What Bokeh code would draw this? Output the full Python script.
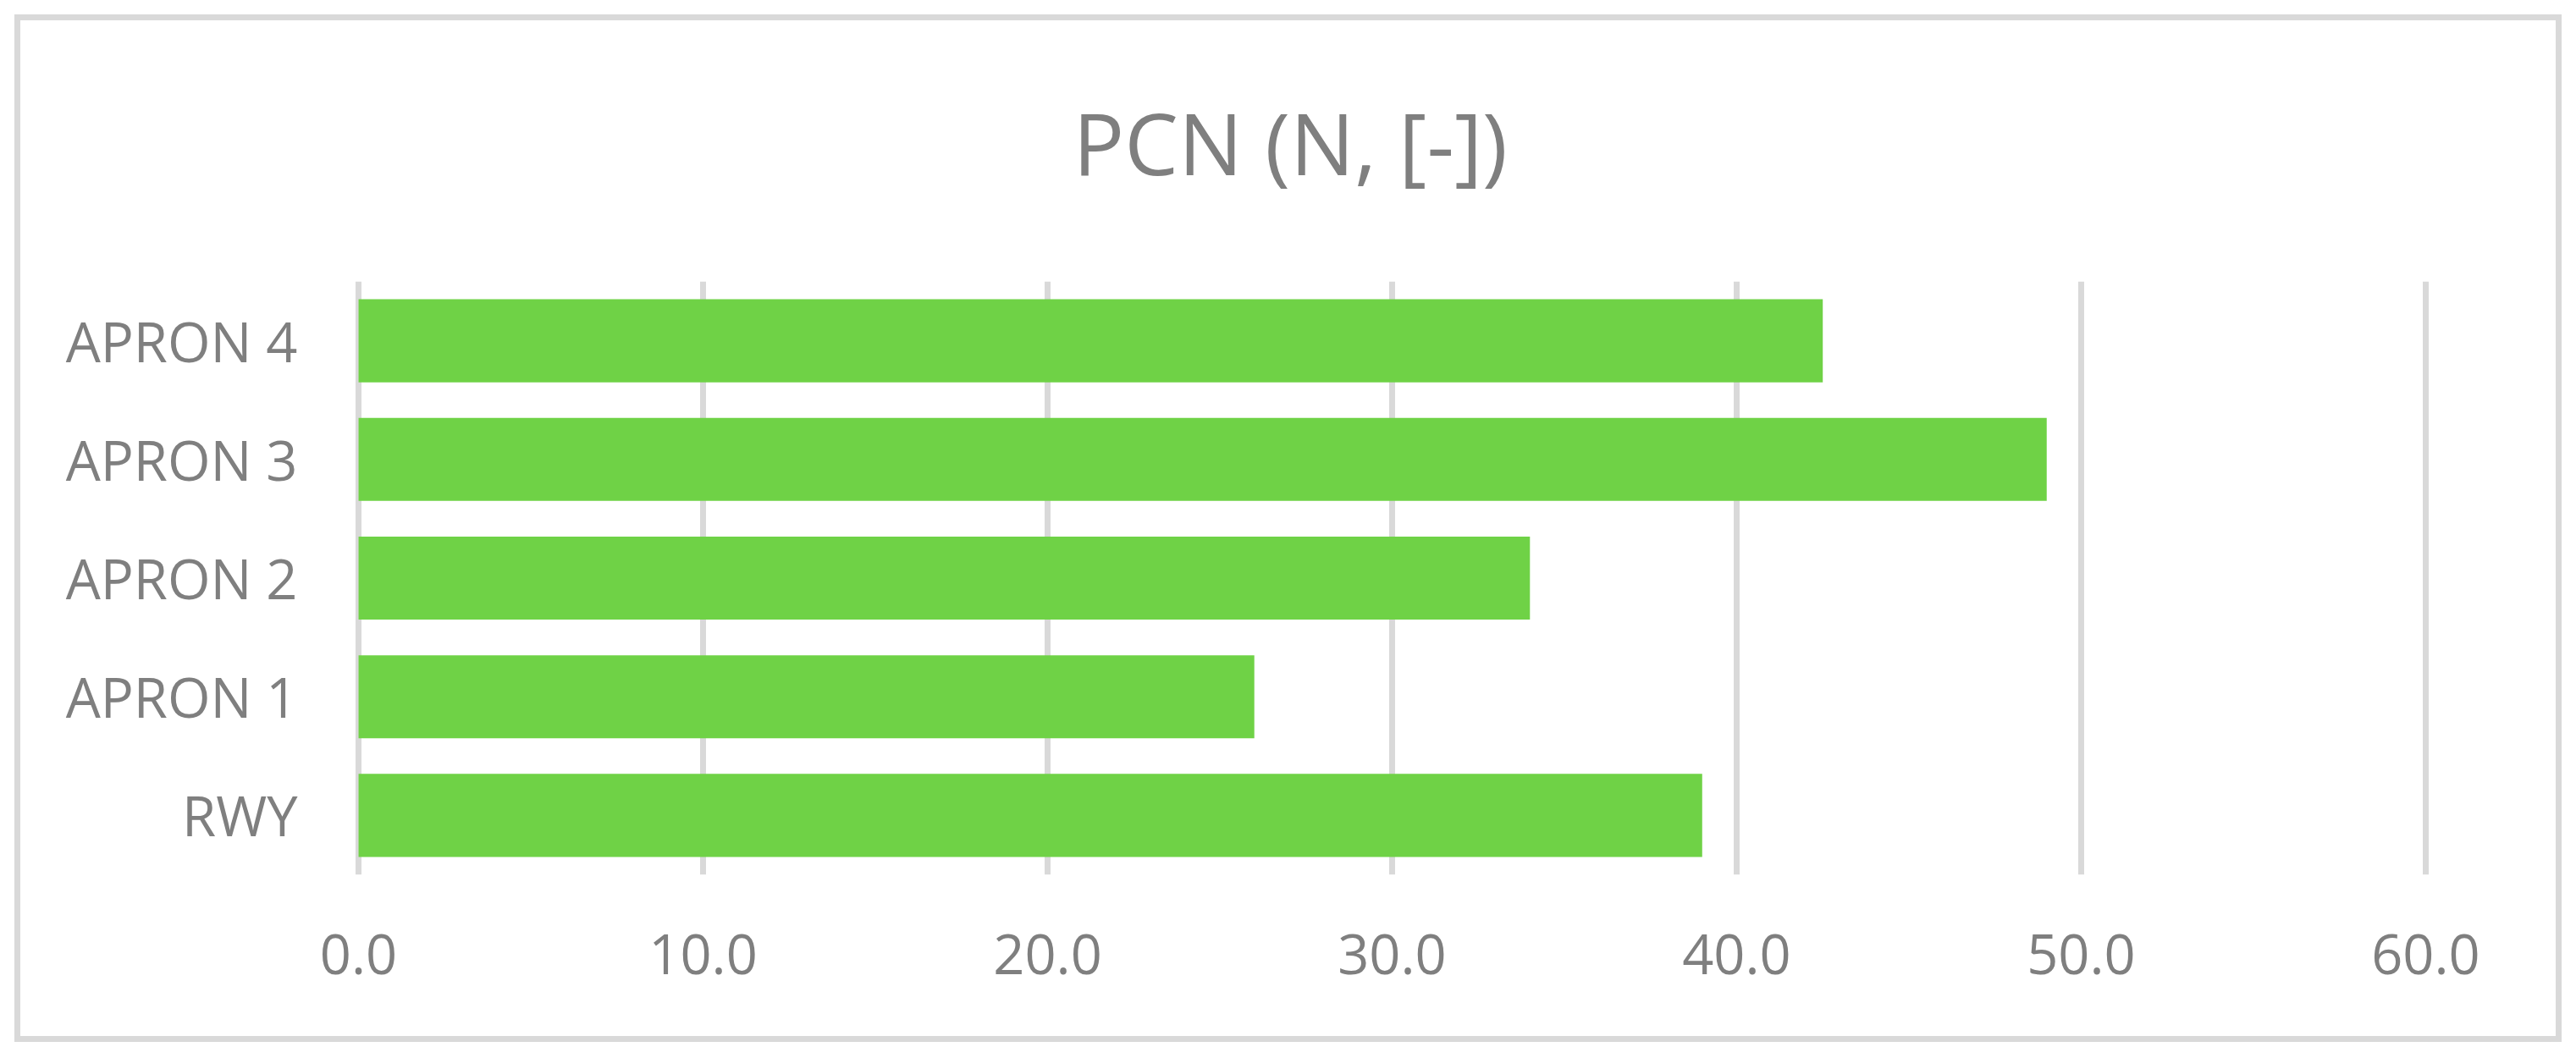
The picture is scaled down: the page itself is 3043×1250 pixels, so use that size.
from bokeh.plotting import figure
from bokeh.models import FactorRange, Range1d, FixedTicker
from bokeh.embed import file_html
from bokeh.resources import INLINE

# ---- data ----
categories = ["RWY", "APRON 1", "APRON 2", "APRON 3", "APRON 4"]
pcn_values = [39.0, 26.0, 34.0, 49.0, 42.5]
x_ticks = [0, 10, 20, 30, 40, 50, 60]
x_tick_labels = ["0.0", "10.0", "20.0", "30.0", "40.0", "50.0", "60.0"]
title_text = "PCN (N, [-])"

TEXT = "#7f7f7f"
GRID = "#d9d9d9"
BAR = "#6fd246"
FONT = "Open Sans"

W, H = 3043, 1248
FL, FR, FT, FB = 419, 2869, 328, 1033   # frame edges on the canvas

p = figure(
    width=W, height=H,
    y_range=FactorRange(factors=categories, range_padding=0),
    x_range=Range1d(-0.1, 60.1),
    output_backend="svg", toolbar_location=None,
    min_border_left=FL, min_border_right=W - FR,
    min_border_top=FT, min_border_bottom=H - FB,
)
p.outline_line_color = None
p.background_fill_color = "white"
p.border_fill_color = None
p.styles = {"outline": "7px solid " + GRID, "outline-offset": "-24px",
            "background-color": "white"}

p.hbar(y=categories, right=pcn_values, left=0, height=0.7,
       fill_color=BAR, line_color=None)

# x axis
p.xaxis.ticker = FixedTicker(ticks=x_ticks)
p.xaxis.major_label_overrides = {t: l for t, l in zip(x_ticks, x_tick_labels)}
p.xaxis.axis_line_color = None
p.xaxis.major_tick_line_color = None
p.xaxis.minor_tick_line_color = None
p.xaxis.major_tick_out = 0
p.xaxis.major_tick_in = 0
p.xaxis.major_label_standoff = 70
p.xaxis.major_label_text_font = FONT
p.xaxis.major_label_text_font_size = "65px"
p.xaxis.major_label_text_color = TEXT

# y axis
p.yaxis.axis_line_color = None
p.yaxis.major_tick_line_color = None
p.yaxis.minor_tick_line_color = None
p.yaxis.major_tick_out = 0
p.yaxis.major_tick_in = 0
p.yaxis.major_label_standoff = 68
p.yaxis.major_label_text_font = FONT
p.yaxis.major_label_text_font_size = "65px"
p.yaxis.major_label_text_color = TEXT

# grid
p.xgrid.grid_line_color = GRID
p.xgrid.grid_line_width = 7
p.ygrid.grid_line_color = None

# title
p.title.text = title_text
p.title.align = "left"
p.title.offset = 848
p.title.standoff = 192
p.title.text_font = FONT
p.title.text_font_size = "101px"
p.title.text_font_style = "normal"
p.title.text_color = TEXT

open("out.html", "w").write(file_html(p, INLINE))
